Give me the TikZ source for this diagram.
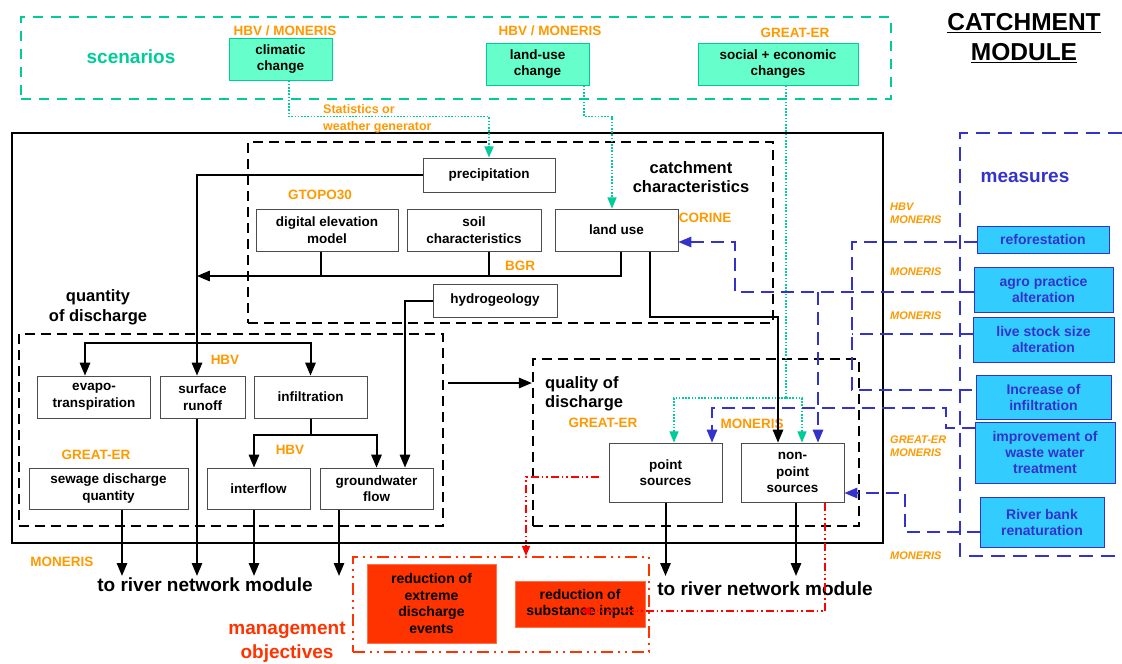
\documentclass[tikz,border=0pt]{standalone}
\usepackage{fontspec}
\setmainfont{Liberation Sans}
\usepackage{tikz}
\usetikzlibrary{arrows}
\usetikzlibrary{calc}
\usetikzlibrary{positioning}

\definecolor{scengreen}{RGB}{0,204,153}
\definecolor{scenfill}{RGB}{102,255,204}
\definecolor{modelorange}{RGB}{255,153,0}
\definecolor{measblue}{RGB}{51,51,204}
\definecolor{measfill}{RGB}{51,204,255}
\definecolor{goalred}{RGB}{255,51,0}
\definecolor{linkred}{RGB}{255,0,0}

\tikzset{
  databox/.style={draw=black!70, line width=1pt, fill=white, align=center, inner sep=1pt,
    font=\fontsize{13.5}{16.5}\selectfont\bfseries},
  scenbox/.style={databox, draw=scengreen, fill=scenfill},
  measbox/.style={databox, draw=measblue, fill=measfill, text=measblue,
    font=\fontsize{14}{16}\selectfont\bfseries},
  goalbox/.style={databox, draw=goalred!70!white, fill=goalred,
    font=\fontsize{14}{16.7}\selectfont\bfseries},
  modellabel/.style={text=modelorange, inner sep=0, font=\fontsize{13.5}{15}\selectfont\bfseries},
  modelnote/.style={text=modelorange, inner sep=0, anchor=west, align=left,
    font=\fontsize{11}{13}\selectfont\bfseries\itshape},
  headtext/.style={inner sep=0, align=center, font=\fontsize{16.5}{19.5}\selectfont\bfseries},
  bigtext/.style={inner sep=0, align=center, font=\fontsize{19}{24}\selectfont\bfseries},
  group/.style={draw, line width=2.5pt, dash pattern=on 10pt off 6pt},
  flow/.style={line width=2pt},
  scenlink/.style={draw=scengreen, line width=1.6pt, dash pattern=on 1.6pt off 1.6pt},
  measlink/.style={draw=measblue, line width=2pt, dash pattern=on 13pt off 7pt},
  goallink/.style={draw=linkred, line width=1.3pt,
    dash pattern=on 8pt off 3pt on 1.5pt off 3pt on 1.5pt off 3pt},
}

\begin{document}
\begin{tikzpicture}[x=1pt,y=-1pt,>=triangle 45,line join=miter]
  \useasboundingbox (0,0) rectangle (1122,664);
  %
  % groups
  \node[draw=scengreen, line width=2.5pt, dash pattern=on 10pt off 8pt,
    minimum width=870pt, minimum height=82pt] (scen) at (456,58) {};
  \node[draw, line width=1.8pt, minimum width=871pt, minimum height=410pt] (module) at (447.5,338) {};
  \node[group, minimum width=525pt, minimum height=181pt] (catch) at (510.5,232.5) {};
  \node[group, minimum width=424pt, minimum height=192pt] (quant) at (231,430) {};
  \node[group, minimum width=326pt, minimum height=167pt] (qual) at (696,442.5) {};
  \draw[measlink, line width=2.2pt, dash pattern=on 14pt off 8pt]
    (1122,133) -- (960,133) -- (960,556) -- (1122,556);
  \node[draw=goalred, line width=2.2pt, dash pattern=on 12pt off 5pt on 2pt off 5pt on 2pt off 5pt,
    minimum width=296pt, minimum height=95pt] (goals) at (501,604.5) {};
  %
  % titles
  \node[inner sep=0, align=center, font=\fontsize{24.5}{30}\selectfont\bfseries]
    (modtitle) at (1024,38) {\underline{CATCHMENT}\\\underline{MODULE}};
  \node[headtext, text=scengreen, font=\fontsize{19}{22}\selectfont\bfseries] (scentitle) at (131,57) {scenarios};
  \node[headtext] (catchtitle) at (691,177) {catchment\\characteristics};
  \node[headtext] (quanttitle) at (98,307.5) {quantity\\of discharge};
  \node[headtext, anchor=west, align=left] (qualtitle) at (545,394) {quality of\\discharge};
  \node[bigtext, text=measblue] (meastitle) at (1025,177) {measures};
  \node[bigtext, text=goalred] (goaltitle) at (287,642) {management\\objectives};
  \node[bigtext] (river1) at (205,585) {to river network module};
  \node[bigtext] (river2) at (765,589) {to river network module};
  %
  % scenarios
  \node[scenbox, minimum width=103pt, minimum height=42pt] (clim) at (280.5,59) {climatic\\change};
  \node[scenbox, minimum width=103pt, minimum height=42pt] (landch) at (537.5,64) {land-use\\change};
  \node[scenbox, minimum width=160pt, minimum height=42pt] (socio) at (778,64) {social + economic\\changes};
  %
  % catchment characteristics
  \node[databox, minimum width=132pt, minimum height=34pt] (precip) at (489,175) {precipitation};
  \node[databox, minimum width=142pt, minimum height=42pt] (dem) at (327,230) {digital elevation\\model};
  \node[databox, minimum width=134pt, minimum height=42pt] (soil) at (474,230) {soil\\characteristics};
  \node[databox, minimum width=123pt, minimum height=42pt] (landuse) at (616.5,230) {land use};
  \node[databox, minimum width=124pt, minimum height=33pt] (hydro) at (495,300.5) {hydrogeology};
  %
  % quantity of discharge
  \node[databox, minimum width=113pt, minimum height=42pt] (evapo) at (94,397) {evapo-\\transpiration};
  \node[databox, minimum width=85pt, minimum height=42pt] (runoff) at (202.5,397) {surface\\runoff};
  \node[databox, minimum width=113pt, minimum height=42pt] (infil) at (310.5,397) {infiltration};
  \node[databox, minimum width=159pt, minimum height=41pt] (sewage) at (108.5,488.5) {sewage discharge\\quantity};
  \node[databox, minimum width=103pt, minimum height=41pt] (interflow) at (258.5,488.5) {interflow};
  \node[databox, minimum width=113pt, minimum height=41pt] (gwflow) at (376.5,488.5) {groundwater\\flow};
  %
  % quality of discharge
  \node[databox, minimum width=113pt, minimum height=59pt] (point) at (665.5,472.5) {point\\sources};
  \node[databox, minimum width=103pt, minimum height=59pt] (nonpoint) at (792.5,472.5) {non-\\point\\sources};
  %
  % measures
  \node[measbox, minimum width=132pt, minimum height=27pt] (refor) at (1043,239.5) {reforestation};
  \node[measbox, minimum width=139pt, minimum height=45pt] (agro) at (1043.5,289.5) {agro practice\\alteration};
  \node[measbox, minimum width=141pt, minimum height=45pt] (live) at (1043.5,339.5) {live stock size\\alteration};
  \node[measbox, minimum width=135pt, minimum height=44pt] (infl) at (1043.5,397) {Increase of\\infiltration};
  \node[measbox, minimum width=140pt, minimum height=61pt] (waste) at (1045,452.5) {improvement of\\waste water\\treatment};
  \node[measbox, minimum width=124pt, minimum height=50pt] (river) at (1042,522) {River bank\\renaturation};
  %
  % management objectives
  \node[goalbox, minimum width=129pt, minimum height=79pt] (extreme) at (431.5,603.5) {reduction of\\extreme\\discharge\\events};
  \node[goalbox, minimum width=130pt, minimum height=46pt] (subst) at (580,604) {reduction of\\substance input};
  %
  % models
  \node[modellabel] (climlab) at (285,31) {HBV / MONERIS};
  \node[modellabel] (landlab) at (550,31) {HBV / MONERIS};
  \node[modellabel] (sociolab) at (795,33) {GREAT-ER};
  \node[modellabel, anchor=west, align=left, font=\fontsize{12.5}{17}\selectfont\bfseries]
    (statlab) at (323,118.5) {Statistics or\\weather generator};
  \node[modellabel] (demlab) at (320,195) {GTOPO30};
  \node[modellabel] (soillab) at (520,266) {BGR};
  \node[modellabel] (landlab2) at (705,218) {CORINE};
  \node[modellabel] (hbvlab) at (225,360) {HBV};
  \node[modellabel] (hbvlab2) at (290,450) {HBV};
  \node[modellabel] (sewlab) at (96,455) {GREAT-ER};
  \node[modellabel] (pointlab) at (603,423) {GREAT-ER};
  \node[modellabel] (nonplab) at (752,424) {MONERIS};
  \node[modellabel] (outlab) at (62,562) {MONERIS};
  \node[modelnote] (reforlab) at (890,213.5) {HBV\\MONERIS};
  \node[modelnote] (agrolab) at (890,272) {MONERIS};
  \node[modelnote] (livelab) at (890,316) {MONERIS};
  \node[modelnote] (wastelab) at (890,446.5) {GREAT-ER\\MONERIS};
  \node[modelnote] (riverlab) at (890,556) {MONERIS};
  %
  % scenario links
  \draw[scenlink,->] ([xshift=8.5pt]clim.south) |- ([yshift=41pt]precip.north) -- (precip.north);
  \draw[scenlink,->] ([xshift=46.5pt]landch.south) |- ([xshift=-4.5pt,yshift=92pt]landuse.north)
    -- ([xshift=-4.5pt]landuse.north);
  \coordinate (split) at (786,398);
  \draw[scenlink] ([xshift=8pt]socio.south) -- (split);
  \draw[scenlink,->] (split) -| ([xshift=8.5pt]point.north);
  \draw[scenlink,->] (split) -| ([xshift=9.5pt]nonpoint.north);
  %
  % water flow
  \coordinate (bgrend) at (197,276);
  \coordinate (hbvbus) at (197,343);
  \draw[flow,->] (precip.west) -| ([xshift=-5.5pt]runoff.north);
  \draw[flow,->] (hbvbus) -| ([xshift=-9pt]evapo.north);
  \draw[flow,->] (hbvbus) -| (infil.north);
  \draw[flow,->] ([xshift=4.5pt]landuse.south) |- (bgrend);
  \draw[flow] ([xshift=-6pt]dem.south) -- ([xshift=-6pt]dem.south |- bgrend);
  \draw[flow] ([xshift=15pt]soil.south) -- ([xshift=15pt]soil.south |- bgrend);
  \draw[flow,->] ([xshift=33.5pt]landuse.south) |- ([xshift=-14.5pt,yshift=126pt]nonpoint.north)
    -- ([xshift=-14.5pt]nonpoint.north);
  \draw[flow,->] (hydro.west) -| ([xshift=28.5pt]gwflow.north);
  \draw[flow] (infil.south) -- ([yshift=-16pt]infil.south);
  \draw[flow,->] ([yshift=-16pt]infil.south) -| ([xshift=-4.5pt]interflow.north);
  \draw[flow,->] ([yshift=-16pt]infil.south) -| (gwflow.north);
  \coordinate (qq) at (0,383);
  \draw[flow,->] ([xshift=4pt]quant.east |- qq) -- (qual.west |- qq);
  %
  % to river network
  \coordinate (outleft) at ([yshift=2pt]river1.north);
  \coordinate (outright) at ([yshift=6pt]river2.north);
  \draw[flow,->] ([xshift=13.5pt]sewage.south) -- ([xshift=13.5pt]sewage.south |- outleft);
  \draw[flow,->] ([xshift=-5.5pt]runoff.south) -- ([xshift=-5.5pt]runoff.south |- outleft);
  \draw[flow,->] ([xshift=-4.5pt]interflow.south) -- ([xshift=-4.5pt]interflow.south |- outleft);
  \draw[flow,->] ([xshift=-37.5pt]gwflow.south) -- ([xshift=-37.5pt]gwflow.south |- outleft);
  \draw[flow,->] (point.south) -- (point.south |- outright);
  \draw[flow,->] ([xshift=3.5pt]nonpoint.south) -- ([xshift=3.5pt]nonpoint.south |- outright);
  %
  % measure links
  \coordinate (agroline) at ([yshift=-2.5pt]agro.west);
  \draw[measlink,->] (agroline) -| ([xshift=56pt,yshift=-12pt]landuse.east) -- ([yshift=-12pt]landuse.east);
  \draw[measlink,->] ([xshift=25.5pt]nonpoint.north |- agroline) -- ([xshift=25.5pt]nonpoint.north);
  \draw[measlink] ([yshift=-2.5pt]refor.west) -- ++(-125,0) |- ([yshift=7pt]infl.west);
  \draw[measlink] ([yshift=5.5pt]live.west) -- ++(-121,0);
  \draw[measlink,->] ([yshift=24.5pt]waste.west) -- ++(-29,0) |- ([xshift=46.5pt,yshift=35pt]point.north)
    -- ([xshift=46.5pt]point.north);
  \draw[measlink,->] ([yshift=-10pt]river.west) -- ++(-75,0) |- ([yshift=-20.5pt]nonpoint.east);
  %
  % objective links
  \draw[goallink,->] ([xshift=-10pt,yshift=-4.5pt]point.west) -| ([xshift=25pt]goals.north);
  \draw[goallink,->] ([xshift=32.5pt]nonpoint.south) |- ([yshift=-7pt]subst.center);
\end{tikzpicture}
\end{document}
